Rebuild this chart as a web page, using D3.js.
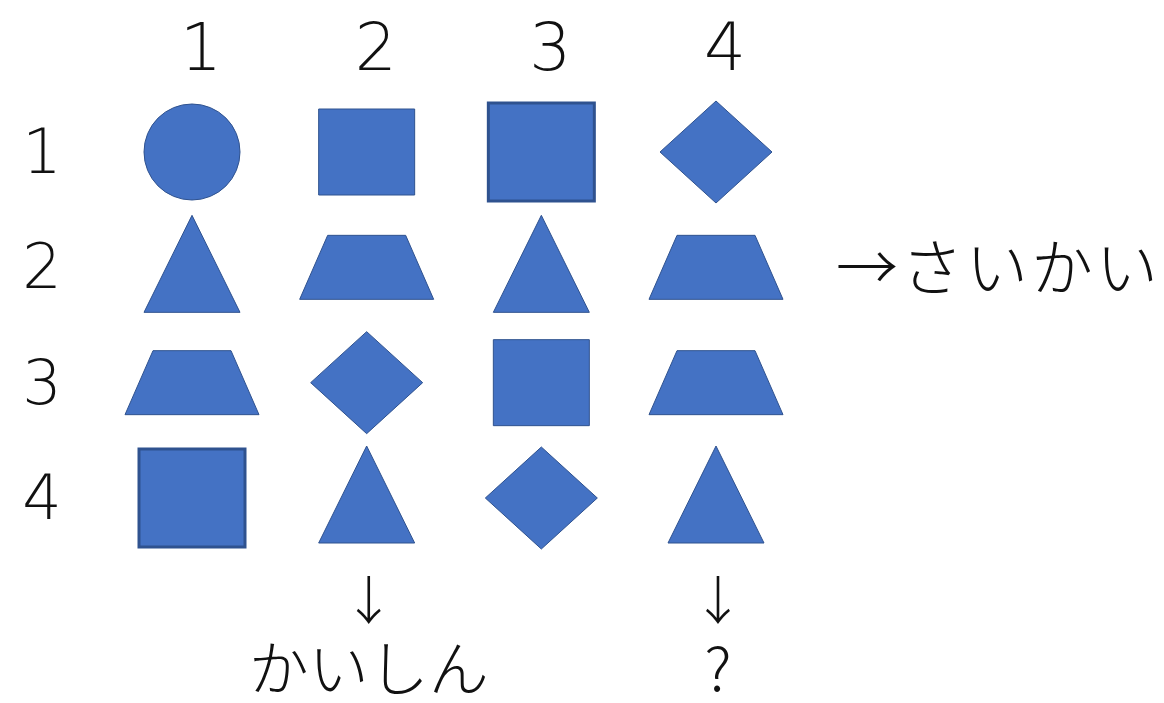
<!DOCTYPE html>
<html>
<head>
<meta charset="utf-8">
<script src="https://cdn.jsdelivr.net/npm/d3@7"></script>
<style>
  body { margin: 0; background: #fff; }
  text { fill: #111; }
</style>
</head>
<body>
<script>
// grid data
var cols = [1, 2, 3, 4];
var rows = [1, 2, 3, 4];
var grid = [
  ['circle',    'square',   'squareB',  'diamond'],
  ['triangle',  'trapezoid','triangle', 'trapezoid'],
  ['trapezoid', 'diamond',  'square',   'trapezoid'],
  ['squareB',   'triangle', 'diamond',  'triangle']
];
var rightNote = '→さいかい';
var bottomNotes = [{col: 2, text: 'かいしん'}, {col: 4, text: '?'}];

var width = 1164, height = 703;

var svg = d3.select('body').append('svg')
  .attr('width', width).attr('height', height);

// column / row centres
var x = d3.scaleLinear().domain([1, 4]).range([192, 716]);
var y = d3.scaleLinear().domain([1, 4]).range([152, 498]);

var fill = '#4472C4', edge = '#2F528F';

// shape outlines around (0,0)
function shapePath(t) {
  if (t == 'circle') return d3.arc()({innerRadius: 0, outerRadius: 48, startAngle: 0, endAngle: 2 * Math.PI});
  if (t == 'square') return 'M-48,-43H48V43H-48Z';
  if (t == 'squareB') return 'M-53,-49H53V49H-53Z';
  if (t == 'diamond') return 'M0,-51L56,0L0,51L-56,0Z';
  if (t == 'triangle') return 'M0,-52L48,45H-48Z';
  if (t == 'trapezoid') return 'M-39,-32H39L67,32H-67Z';
}

var cells = [];
grid.forEach(function(r, i) {
  r.forEach(function(t, j) { cells.push({row: rows[i], col: cols[j], type: t}); });
});

svg.append('g').selectAll('path').data(cells).enter().append('path')
  .attr('transform', function(d) { return 'translate(' + x(d.col) + ',' + y(d.row) + ')'; })
  .attr('d', function(d) { return shapePath(d.type); })
  .attr('fill', fill)
  .attr('stroke', edge)
  .attr('stroke-width', function(d) { return d.type == 'squareB' ? 3 : 1; });

// column headers
svg.append('g').selectAll('text').data(cols).enter().append('text')
  .attr('x', function(d) { return x(d) + 9; })
  .attr('y', 70)
  .attr('text-anchor', 'middle')
  .style('font-family', 'DejaVu Sans').style('font-weight', 300).style('font-size', '66px')
  .text(function(d) { return d; });

// row headers
svg.append('g').selectAll('text').data(rows).enter().append('text')
  .attr('x', 42)
  .attr('y', function(d) { return y(d) + 21; })
  .attr('text-anchor', 'middle')
  .style('font-family', 'DejaVu Sans').style('font-weight', 300).style('font-size', '62px')
  .text(function(d) { return d; });

// right note for row 2
svg.append('text')
  .attr('x', 836).attr('y', y(2) + 24)
  .style('font-family', '"Noto Sans CJK JP"').style('font-weight', 300).style('font-size', '62px')
  .style('letter-spacing', '3px')
  .text(rightNote);

// down arrows and answers
var notes = svg.append('g').selectAll('g').data(bottomNotes).enter().append('g');
notes.append('text')
  .attr('x', function(d) { return x(d.col) + 2; })
  .attr('y', 620)
  .attr('text-anchor', 'middle')
  .style('font-family', '"Noto Sans CJK JP"').style('font-weight', 300).style('font-size', '52px')
  .text('↓');
notes.append('text')
  .attr('x', function(d) { return x(d.col) + 2; })
  .attr('y', 691)
  .attr('text-anchor', 'middle')
  .style('font-family', '"Noto Sans CJK JP"').style('font-weight', 300).style('font-size', '60px')
  .text(function(d) { return d.text; });
</script>
</body>
</html>
